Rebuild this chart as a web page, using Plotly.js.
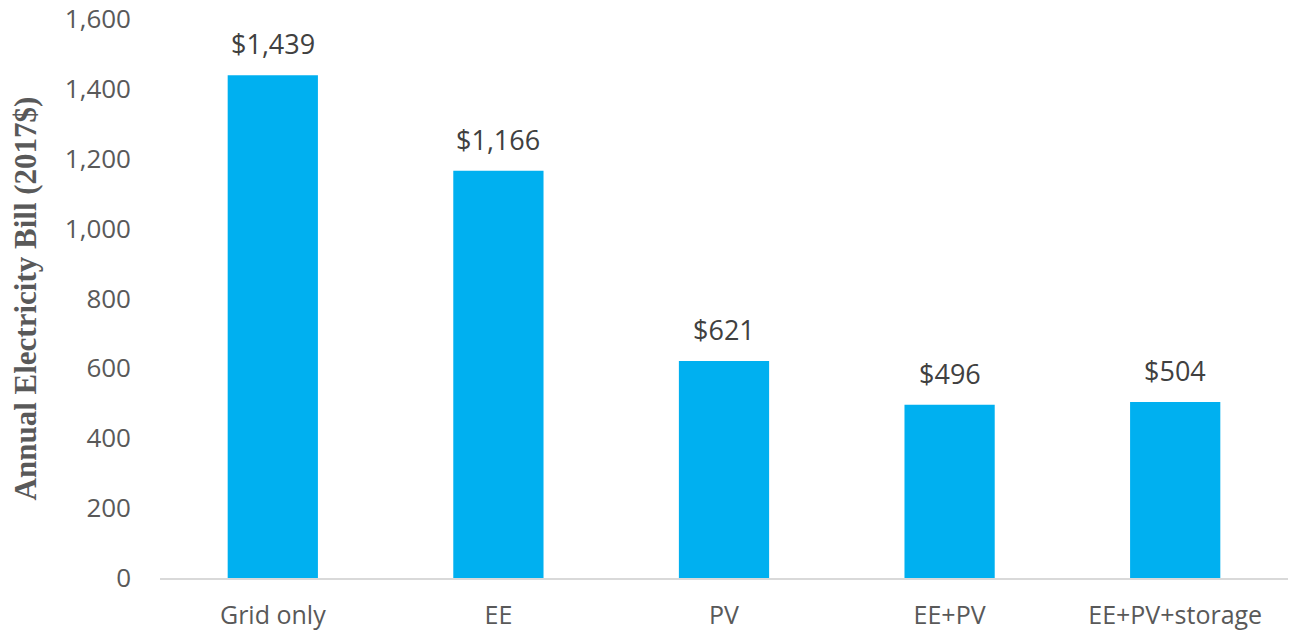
<!DOCTYPE html>
<html>
<head>
<meta charset="utf-8">
<script src="https://cdn.plot.ly/plotly-3.0.1.min.js"></script>
<style>html,body{margin:0;padding:0;background:#fff;}#chart{width:1292px;height:636px;}</style>
</head>
<body>
<div id="chart"></div>
<script>
const categories = ["Grid only", "EE", "PV", "EE+PV", "EE+PV+storage"];
const bills = [1439, 1166, 621, 496, 504];
const labels = ["$1,439", "$1,166", "$621", "$496", "$504"];
const yTicks = [0, 200, 400, 600, 800, 1000, 1200, 1400, 1600];
const yTickText = ["0", "200", "400", "600", "800", "1,000", "1,200", "1,400", "1,600"];

const trace = {
  type: "bar",
  x: categories,
  y: bills,
  marker: {color: "#00b0f0"},
  width: 0.4,
  hoverinfo: "skip"
};

const annotations = categories.map((c, i) => ({
  x: c, y: bills[i], xref: "x", yref: "y",
  text: labels[i], showarrow: false,
  yanchor: "bottom", yshift: 11,
  font: {family: "Open Sans, sans-serif", size: 27, color: "#404040"}
}));

const layout = {
  width: 1292, height: 636,
  margin: {l: 160, r: 4, t: 19, b: 58},
  paper_bgcolor: "#fff", plot_bgcolor: "#fff",
  showlegend: false,
  bargap: 0.6,
  xaxis: {
    type: "category",
    showline: true, linecolor: "#d9d9d9", linewidth: 2,
    ticks: "", showgrid: false,
    tickfont: {family: "Open Sans, sans-serif", size: 25, color: "#595959"},
    ticklabelstandoff: 14
  },
  yaxis: {
    range: [0, 1600],
    tickvals: yTicks, ticktext: yTickText,
    showgrid: false, zeroline: false, showline: false, ticks: "",
    tickfont: {family: "Open Sans, sans-serif", size: 26, color: "#595959"},
    ticklabelstandoff: 28,
    title: {
      text: "Annual Electricity Bill (2017$)",
      font: {family: "Liberation Serif, Times New Roman, serif", size: 31, color: "#595959", weight: "bold"},
      standoff: 18
    }
  },
  annotations: annotations
};

Plotly.newPlot("chart", [trace], layout, {displayModeBar: false, staticPlot: true});
</script>
</body>
</html>
